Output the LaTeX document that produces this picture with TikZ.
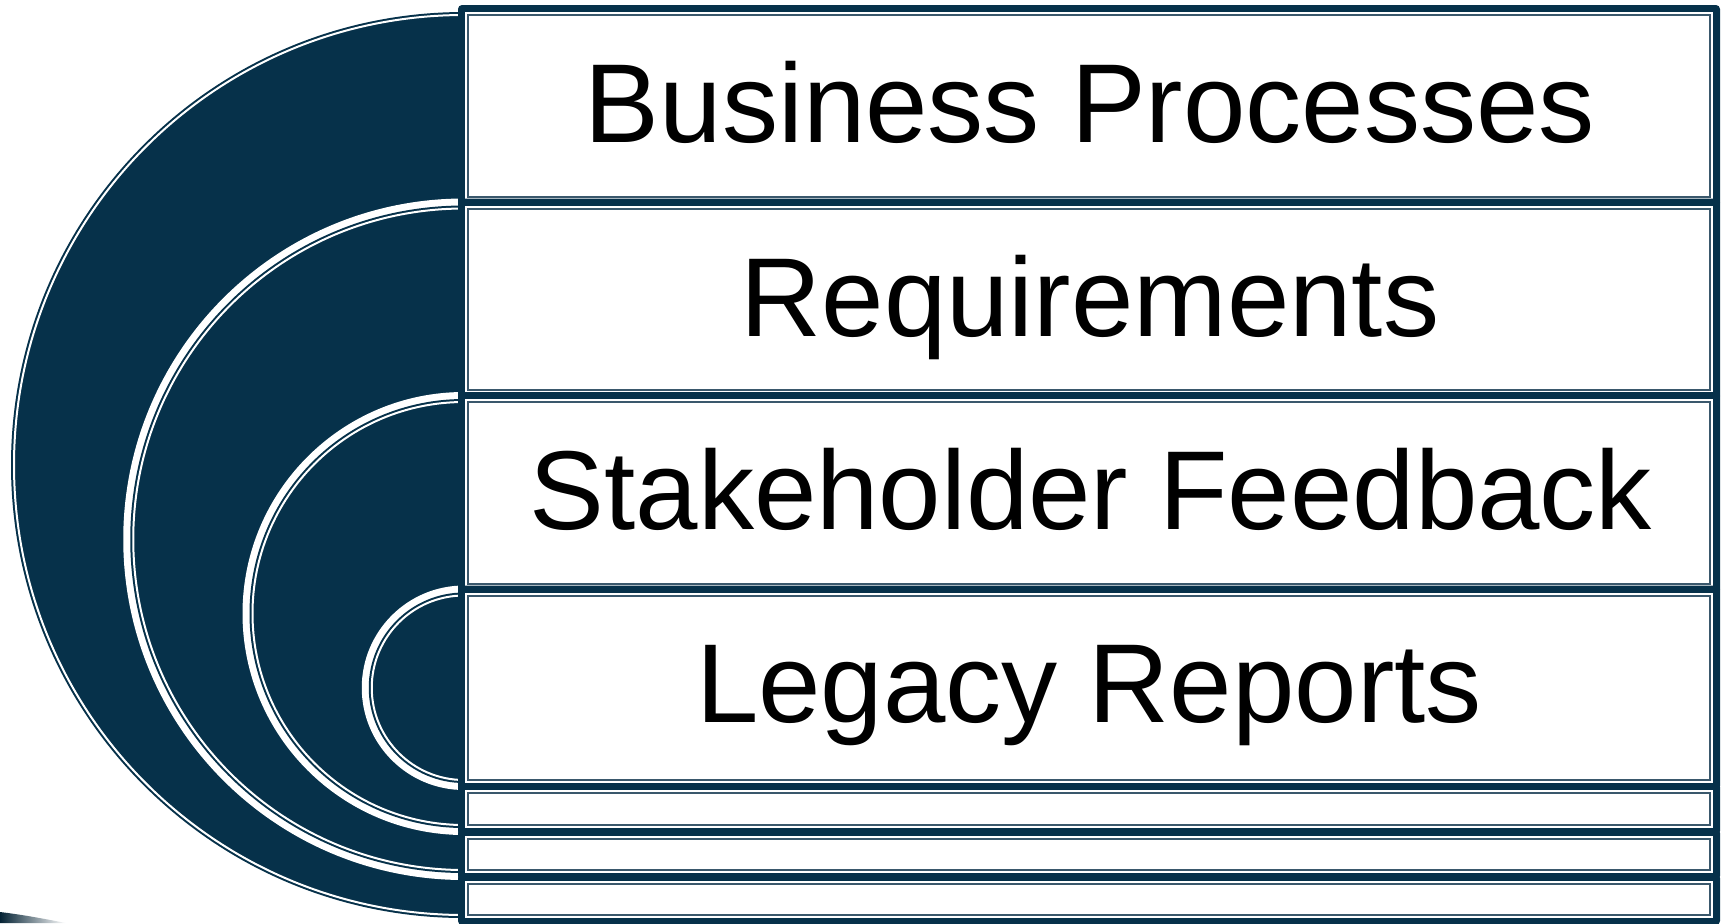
\documentclass[tikz,border=0pt]{standalone}
\usepackage{fontspec}
\setmainfont{Liberation Sans}
\definecolor{navy}{RGB}{6,49,74}
\definecolor{rule}{RGB}{58,88,108}
\tikzset{
  disc/.style={fill=navy},
  discsep/.style={fill=white},
  discline/.style={draw=white, line width=1pt},
  boxframe/.style={fill=navy, rounded corners=2pt},
  boxinner/.style={fill=white},
  boxrule/.style={draw=rule, line width=1pt},
  caption/.style={anchor=base, inner sep=0pt, text=black,
    font=\fontsize{56.1pt}{60pt}\selectfont}
}
\begin{document}
\begin{tikzpicture}[x=0.5pt, y=-0.5pt]
  \useasboundingbox (0,0) rectangle (1721,923);
  \fill[white] (0,0) rectangle (1721,923);
  \clip (0,0) rectangle (1721,923);

  % nested half discs behind the stack (right halves hidden by the boxes)
  \foreach \cy/\r in {465/460, 539.25/340.75, 613.5/221.5, 687.75/102.25} {
    \path[discsep] (464,\cy) circle[radius=\r];
    \path[disc] (464,\cy) circle[radius=\r-7];
    \path[discline] (464,\cy) circle[radius=\r-10];
  }

  % faint shadow sliver at the lower left
  \shade[left color=navy!70!black, middle color=black, right color=white]
    (0,912) .. controls (25,915) and (45,919) .. (66,923) -- (0,923) -- cycle;

  % stacked framed boxes, each one drawn over the one above it
  \foreach \n/\ty/\by in {1/5/206.5, 2/198.5/400, 3/392/593.5, 4/585.5/790,
                          5/783/835, 6/829/880, 7/874/925} {
    \path[boxframe] (458,\ty) rectangle (1720,\by);
    \path[boxinner] (465,\ty+7) rectangle (1713,\by-7);
    \path[boxrule] (468,\ty+10) rectangle (1710,\by-10);
  }

  % box captions
  \node[caption] (t1) at (1090,142.7) {Business Processes};
  \node[caption] (t2) at (1090,336) {Requirements};
  \node[caption] (t3) at (1091,529) {Stakeholder Feedback};
  \node[caption] (t4) at (1089,722) {Legacy Reports};
\end{tikzpicture}
\end{document}
